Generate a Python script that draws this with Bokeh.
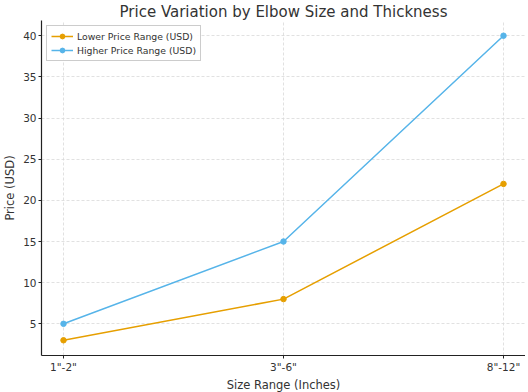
from bokeh.plotting import figure
from bokeh.models import FixedTicker, Range1d, Legend, LegendItem
from bokeh.embed import file_html
from bokeh.resources import INLINE

sizes = ['1"-2"', '3"-6"', '8"-12"']
lower_price = [3, 8, 22]
higher_price = [5, 15, 40]
y_ticks = [5, 10, 15, 20, 25, 30, 35, 40]

xs = list(range(len(sizes)))

p = figure(frame_width=484, frame_height=335, output_backend="svg", toolbar_location=None,
           x_range=Range1d(-0.1, 2.1), y_range=Range1d(1.15, 41.85),
           min_border_left=0, min_border_right=0, min_border_top=0, min_border_bottom=0)

p.title.text = "Price Variation by Elbow Size and Thickness"
p.title.align = "center"
p.title.text_font = "DejaVu Sans"
p.title.text_font_size = "15px"
p.title.text_font_style = "normal"
p.title.text_color = "#333333"
p.title.standoff = 0
p.title.offset = 0

p.outline_line_color = None
p.background_fill_color = "white"

for ax in (p.xaxis[0], p.yaxis[0]):
    ax.axis_line_color = "#222222"
    ax.axis_line_width = 1.2
    ax.major_tick_line_color = "#222222"
    ax.minor_tick_line_color = None
    ax.major_tick_out = 3
    ax.major_tick_in = 0
    ax.major_label_standoff = 2
    ax.major_label_text_font = "DejaVu Sans"
    ax.major_label_text_font_size = "10.5px"
    ax.major_label_text_color = "#333333"
    ax.axis_label_text_font = "DejaVu Sans"
    ax.axis_label_text_font_size = "11.5px"
    ax.axis_label_text_font_style = "normal"
    ax.axis_label_text_color = "#333333"

p.xaxis.ticker = FixedTicker(ticks=xs)
p.xaxis.major_label_overrides = {i: s for i, s in enumerate(sizes)}
p.yaxis.ticker = FixedTicker(ticks=y_ticks)
p.xaxis.axis_label = "Size Range (Inches)"
p.yaxis.axis_label = "Price (USD)"
p.xaxis.axis_label_standoff = 2
p.yaxis.axis_label_standoff = 3

for g in (p.xgrid[0], p.ygrid[0]):
    g.grid_line_color = "#d9d9d9"
    g.grid_line_dash = "3 2"
    g.grid_line_width = 0.8

orange = "#E69F00"
blue = "#56B4E9"

l1 = p.line(xs, lower_price, color=orange, line_width=1.5)
m1 = p.scatter(xs, lower_price, color=orange, size=5.5)
l2 = p.line(xs, higher_price, color=blue, line_width=1.5)
m2 = p.scatter(xs, higher_price, color=blue, size=5.5)

legend = Legend(items=[
    LegendItem(label="Lower Price Range (USD)", renderers=[l1, m1]),
    LegendItem(label="Higher Price Range (USD)", renderers=[l2, m2]),
], location="top_left")
legend.label_text_font = "DejaVu Sans"
legend.label_text_font_size = "9.3px"
legend.label_text_color = "#333333"
legend.border_line_color = "#cccccc"
legend.border_line_alpha = 1
legend.background_fill_alpha = 0.9
legend.glyph_width = 22
legend.glyph_height = 12
legend.label_height = 12
legend.spacing = 2
legend.padding = 4
legend.margin = 5
legend.label_standoff = 4
p.add_layout(legend)

open("out.html", "w").write(file_html(p, INLINE))
